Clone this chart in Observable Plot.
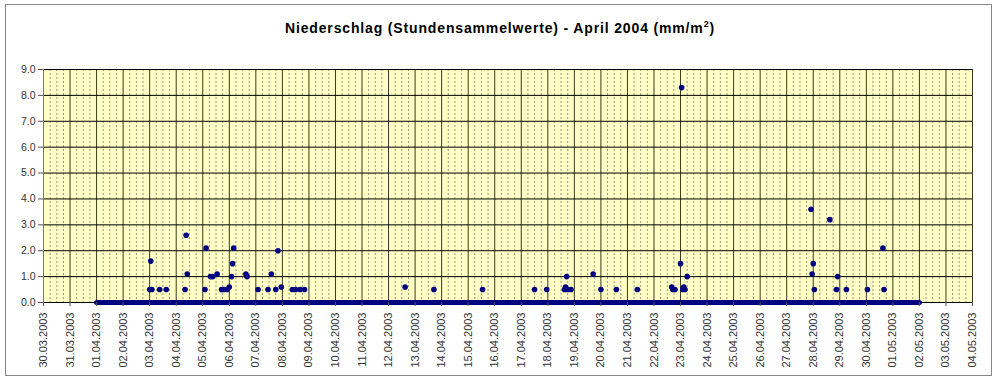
<!DOCTYPE html>
<html>
<head>
<meta charset="utf-8">
<script src="https://cdn.jsdelivr.net/npm/d3@7"></script>
<script src="https://cdn.jsdelivr.net/npm/@observablehq/plot@0.6"></script>
<style>
  html, body { margin: 0; padding: 0; background: #fff; }
  #wrap { position: relative; width: 1000px; height: 382px; overflow: hidden; }
  #border { position: absolute; left: 5px; top: 4px; width: 987px; height: 372px; border: 1px solid #888; box-sizing: border-box; pointer-events: none; }
  #title { position: absolute; left: 0; top: 19px; width: 1000px; text-align: center; font-family: "Liberation Sans", Arial, sans-serif; font-weight: bold; font-size: 14px; letter-spacing: 0.85px; color: #000; }
  #title sup { font-size: 9px; }
  #chart { position: absolute; left: 0; top: 50px; }
</style>
</head>
<body>
<div id="wrap">
  <div id="title">Niederschlag (Stundensammelwerte) - April 2004 (mm/m<sup>2</sup>)</div>
  <div id="chart"></div>
  <div id="border"></div>
</div>
<script>
// hourly precipitation values (only the non-zero hours)
const rainTimes = [
  "2003-04-03T00:00Z","2003-04-03T01:00Z","2003-04-03T02:00Z","2003-04-03T09:00Z","2003-04-03T15:00Z",
  "2003-04-04T08:00Z","2003-04-04T09:00Z","2003-04-04T10:00Z",
  "2003-04-05T02:00Z","2003-04-05T03:00Z","2003-04-05T07:00Z","2003-04-05T09:00Z","2003-04-05T13:00Z","2003-04-05T17:00Z","2003-04-05T19:00Z","2003-04-05T22:00Z",
  "2003-04-06T00:00Z","2003-04-06T02:00Z","2003-04-06T03:00Z","2003-04-06T04:00Z","2003-04-06T15:00Z","2003-04-06T16:00Z",
  "2003-04-07T02:00Z","2003-04-07T11:00Z","2003-04-07T14:00Z","2003-04-07T18:00Z","2003-04-07T20:00Z","2003-04-07T23:00Z",
  "2003-04-08T09:00Z","2003-04-08T12:00Z","2003-04-08T16:00Z","2003-04-08T20:00Z",
  "2003-04-12T15:00Z","2003-04-13T17:00Z","2003-04-15T13:00Z","2003-04-17T12:00Z","2003-04-17T23:00Z",
  "2003-04-18T15:00Z","2003-04-18T16:00Z","2003-04-18T17:00Z","2003-04-18T18:00Z","2003-04-18T21:00Z",
  "2003-04-19T17:00Z","2003-04-20T00:00Z","2003-04-20T14:00Z","2003-04-21T09:00Z",
  "2003-04-22T16:00Z","2003-04-22T17:00Z","2003-04-22T19:00Z",
  "2003-04-23T00:00Z","2003-04-23T01:00Z","2003-04-23T02:00Z","2003-04-23T03:00Z","2003-04-23T04:00Z","2003-04-23T06:00Z",
  "2003-04-27T22:00Z","2003-04-27T23:00Z","2003-04-28T00:00Z","2003-04-28T01:00Z",
  "2003-04-28T15:00Z","2003-04-28T21:00Z","2003-04-28T22:00Z","2003-04-29T06:00Z","2003-04-30T01:00Z","2003-04-30T15:00Z","2003-04-30T16:00Z"
];
const rainValues = [
  0.5,1.6,0.5,0.5,0.5,
  0.5,2.6,1.1,
  0.5,2.1,1.0,1.0,1.1,0.5,0.5,0.5,
  0.6,1.0,1.5,2.1,1.1,1.0,
  0.5,0.5,1.1,0.5,2.0,0.6,
  0.5,0.5,0.5,0.5,
  0.6,0.5,0.5,0.5,0.5,
  0.5,0.6,1.0,0.5,0.5,
  1.1,0.5,0.5,0.5,
  0.6,0.5,0.5,
  1.5,8.3,0.5,0.6,0.5,1.0,
  3.6,1.1,1.5,0.5,
  3.2,0.5,1.0,0.5,0.5,2.1,0.5
];
// all remaining hours of the period are 0.0 (dense row of points on the baseline)
const zeroSpanTimes = ["2003-04-01T00:00Z", "2003-05-02T00:00Z"];
const zeroSpanValues = [0, 0];
// axes
const xDomain = ["2003-03-30T00:00Z", "2003-05-04T00:00Z"];
const yTicks = [0,1,2,3,4,5,6,7,8,9];

const rain = rainTimes.map((t, i) => ({time: new Date(t), value: rainValues[i]}));
const zeroSpan = zeroSpanTimes.map((t, i) => ({time: new Date(t), value: zeroSpanValues[i]}));
const x0 = new Date(xDomain[0]), x1 = new Date(xDomain[1]);
const dayTicks = d3.utcDay.range(x0, d3.utcDay.offset(x1, 1));
const minorTicks = d3.utcHour.every(6).range(x0, x1).filter(d => d.getUTCHours() !== 0);
const navy = "#000080";

const chart = Plot.plot({
  width: 1000,
  height: 332,
  marginLeft: 43,
  marginRight: 28,
  marginTop: 19,
  marginBottom: 80,
  style: {fontFamily: "'Liberation Sans', Arial, sans-serif", fontSize: "10px", color: "#333", background: "transparent"},
  x: {type: "utc", domain: [x0, x1], label: null},
  y: {domain: [0, 9], label: null},
  marks: [
    Plot.frame({fill: "#FFFFC6", stroke: null}),
    Plot.ruleX(minorTicks, {stroke: "#9a9a80", strokeDasharray: "2,2", strokeWidth: 1}),
    Plot.ruleX(dayTicks, {stroke: "#3a3a20", strokeWidth: 1}),
    Plot.ruleY(yTicks, {stroke: "#000", strokeWidth: 1}),
    Plot.ruleX([x0], {stroke: "#777", strokeWidth: 1}),
    Plot.line(zeroSpan, {x: "time", y: "value", stroke: navy, strokeWidth: 5, strokeLinecap: "round"}),
    Plot.dot(rain, {x: "time", y: "value", r: 2.8, fill: navy, stroke: null}),
    Plot.axisX({ticks: dayTicks, tickFormat: d3.utcFormat("%d.%m.%Y"), tickRotate: -90, tickSize: 4, tickPadding: 6, stroke: "#555", fill: "#333", fontSize: 11, label: null}),
    Plot.axisY({ticks: yTicks, tickFormat: d3.format(".1f"), tickSize: 5, tickPadding: 3, stroke: "#555", fill: "#333", fontSize: 10.5, label: null})
  ]
});
document.getElementById("chart").appendChild(chart);
</script>
</body>
</html>
